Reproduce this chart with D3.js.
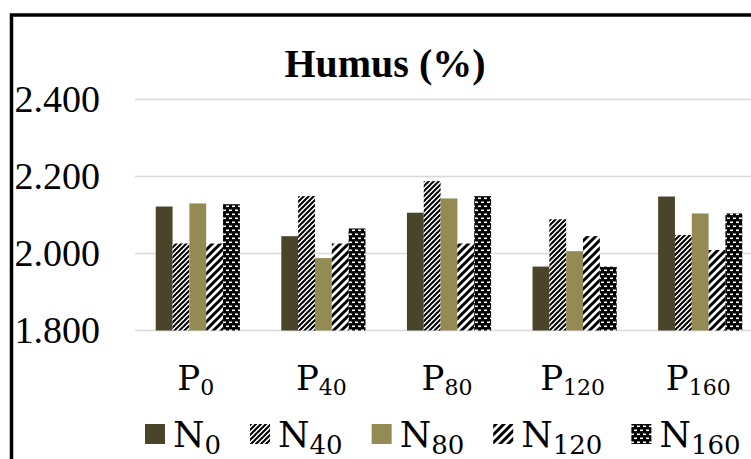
<!DOCTYPE html>
<html>
<head>
<meta charset="utf-8">
<script src="https://cdn.jsdelivr.net/npm/d3@7"></script>
<style>
  body { margin: 0; background: #fff; }
  svg { display: block; font-family: "Liberation Serif", "Times New Roman", serif; }
  .math { font-family: "DejaVu Serif", serif; }
</style>
</head>
<body>
<svg width="751" height="459"></svg>
<script>
// categories (P doses) and series (N doses), shown as subscripts
var pDoses = ["0", "40", "80", "120", "160"];
var nDoses = ["0", "40", "80", "120", "160"];

// humus values per N series, one value per P dose
var n0   = [2.122, 2.045, 2.106, 1.966, 2.148];
var n40  = [2.026, 2.149, 2.188, 2.089, 2.048];
var n80  = [2.130, 1.988, 2.143, 2.006, 2.104];
var n120 = [2.026, 2.026, 2.026, 2.045, 2.009];
var n160 = [2.128, 2.065, 2.149, 1.966, 2.104];

var yTicks = [1.8, 2.0, 2.2, 2.4];

var seriesValues = [n0, n40, n80, n120, n160];
var fills = ["#4a452a", "url(#p40)", "#948a54", "url(#p120)", "url(#p160)"];

var svg = d3.select("svg");

// patterns
var defs = svg.append("defs");

var p40 = defs.append("pattern").attr("id", "p40")
    .attr("patternUnits", "userSpaceOnUse").attr("width", 5).attr("height", 5);
p40.append("rect").attr("width", 5).attr("height", 5).attr("fill", "#fff");
p40.append("path").attr("d", "M-1,1 l2,-2 M0,5 l5,-5 M4,6 l2,-2")
    .attr("stroke", "#000").attr("stroke-width", 2);

var p120 = defs.append("pattern").attr("id", "p120")
    .attr("patternUnits", "userSpaceOnUse").attr("width", 8).attr("height", 8);
p120.append("rect").attr("width", 8).attr("height", 8).attr("fill", "#fff");
p120.append("path").attr("d", "M-2,2 l4,-4 M0,8 l8,-8 M6,10 l4,-4")
    .attr("stroke", "#000").attr("stroke-width", 3);

var p160 = defs.append("pattern").attr("id", "p160")
    .attr("patternUnits", "userSpaceOnUse").attr("width", 6).attr("height", 8);
p160.append("rect").attr("width", 6).attr("height", 8).attr("fill", "#000");
p160.append("rect").attr("x", 1).attr("y", 1.5).attr("width", 3).attr("height", 1.6).attr("fill", "#fff");
p160.append("rect").attr("x", 4).attr("y", 5.5).attr("width", 3).attr("height", 1.6).attr("fill", "#fff");
p160.append("rect").attr("x", -2).attr("y", 5.5).attr("width", 3).attr("height", 1.6).attr("fill", "#fff");

// scales
var x = d3.scaleBand()
    .domain(pDoses)
    .range([135, 763])
    .paddingInner(0.33)
    .paddingOuter(0.165);

var xInner = d3.scaleBand()
    .domain(nDoses)
    .range([0, x.bandwidth()]);

var y = d3.scaleLinear()
    .domain([1.8, 2.4])
    .range([330.5, 99.5]);

// gridlines
svg.append("g")
    .selectAll("line")
    .data(yTicks)
    .enter().append("line")
    .attr("x1", 135).attr("x2", 751)
    .attr("y1", d => y(d)).attr("y2", d => y(d))
    .attr("stroke", "#d9d9d9")
    .attr("stroke-width", 1.5);

// y tick labels
svg.append("g")
    .selectAll("text")
    .data(yTicks)
    .enter().append("text")
    .attr("x", 100)
    .attr("y", d => y(d))
    .attr("dy", "0.32em")
    .attr("text-anchor", "end")
    .attr("font-size", 38)
    .attr("fill", "#000")
    .text(d3.format(".3f"));

// bars
var groups = svg.append("g")
    .selectAll("g")
    .data(nDoses)
    .enter().append("g");

groups.selectAll("rect")
    .data((s, si) => pDoses.map((p, pi) => ({ p: p, s: s, v: seriesValues[si][pi], si: si })))
    .enter().append("rect")
    .attr("x", d => x(d.p) + xInner(d.s))
    .attr("y", d => y(d.v))
    .attr("width", xInner.bandwidth())
    .attr("height", d => y(1.8) - y(d.v))
    .attr("fill", d => fills[d.si]);

// category labels
var cat = svg.append("g")
    .selectAll("text")
    .data(pDoses)
    .enter().append("text")
    .attr("class", "math")
    .attr("x", d => x(d) + x.bandwidth() / 2 - 2)
    .attr("y", 390)
    .attr("text-anchor", "middle")
    .attr("font-size", 34)
    .attr("fill", "#000");
cat.append("tspan").text("P");
cat.append("tspan").attr("font-size", 22).attr("dy", 5).text(d => d);

// title
svg.append("text")
    .attr("x", 385)
    .attr("y", 77)
    .attr("text-anchor", "middle")
    .attr("font-size", 40)
    .attr("font-weight", "bold")
    .attr("fill", "#000")
    .text("Humus (%)");

// legend
var legend = svg.append("g");
var lx = 145;
nDoses.forEach(function (s, i) {
    legend.append("rect")
        .attr("x", lx).attr("y", 424)
        .attr("width", 20).attr("height", 20)
        .attr("fill", fills[i]);
    var t = legend.append("text")
        .attr("class", "math")
        .attr("x", lx + 28)
        .attr("y", 447)
        .attr("font-size", 36)
        .attr("fill", "#000");
    t.append("tspan").text("N");
    t.append("tspan").attr("font-size", 26).attr("dy", 7).text(s);
    lx = lx + 28 + t.node().getComputedTextLength() + 29;
});

// outer frame
svg.append("rect")
    .attr("x", 11.5).attr("y", 15)
    .attr("width", 800).attr("height", 500)
    .attr("fill", "none")
    .attr("stroke", "#000")
    .attr("stroke-width", 3.5);
</script>
</body>
</html>
